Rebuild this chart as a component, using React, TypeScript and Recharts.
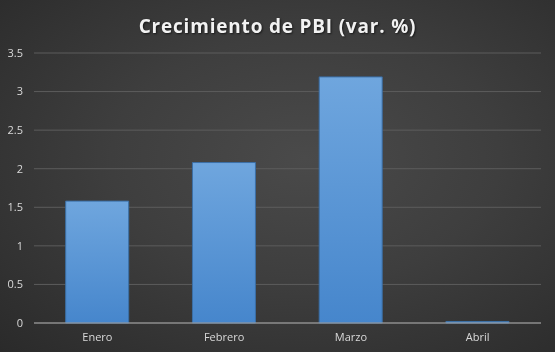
import { BarChart, Bar, XAxis, YAxis, CartesianGrid } from 'recharts';

const MESES = ['Enero', 'Febrero', 'Marzo', 'Abril'];
const CRECIMIENTO = [1.58, 2.08, 3.19, 0.02];
const Y_TICKS = [0, 0.5, 1, 1.5, 2, 2.5, 3, 3.5];

const data = MESES.map((mes, i) => ({ mes, valor: CRECIMIENTO[i] }));

const TICK = { fontSize: 11, fill: '#d9d9d9', fontFamily: '"Open Sans", sans-serif' };

export default function App() {
  return (
    <div
      style={{
        position: 'fixed',
        left: 0,
        top: 0,
        width: 555,
        height: 352,
        background: 'radial-gradient(ellipse at 55% 45%, #4a4a4a 0%, #3e3e3e 45%, #2a2a2a 100%)',
      }}
    >
      <div
        style={{
          position: 'absolute',
          left: 0,
          top: 13,
          width: 555,
          textAlign: 'center',
          color: '#f2f2f2',
          fontFamily: '"Open Sans", sans-serif',
          fontWeight: 700,
          fontSize: 19,
          letterSpacing: 0.8,
          textShadow: '1px 1px 2px rgba(0,0,0,0.6)',
        }}
      >
        Crecimiento de PBI (var. %)
      </div>
      <BarChart
        width={555}
        height={352}
        data={data}
        margin={{ top: 53, right: 14, bottom: 0, left: 0 }}
        barCategoryGap="25%"
      >
        <defs>
          <linearGradient id="gradBar" x1="0" y1="0" x2="0" y2="1">
            <stop offset="0%" stopColor="#6fa6de" />
            <stop offset="100%" stopColor="#4686cc" />
          </linearGradient>
        </defs>
        <CartesianGrid vertical={false} stroke="#5c5c5c" />
        <XAxis
          dataKey="mes"
          height={29}
          tick={TICK}
          tickLine={false}
          axisLine={{ stroke: '#a6a6a6' }}
          tickMargin={4}
        />
        <YAxis
          domain={[0, 3.5]}
          ticks={Y_TICKS}
          tick={TICK}
          tickLine={false}
          axisLine={false}
          width={34}
          tickMargin={5}
        />
        <Bar dataKey="valor" fill="url(#gradBar)" stroke="#3b6fa6" strokeWidth={1} isAnimationActive={false} />
      </BarChart>
    </div>
  );
}
